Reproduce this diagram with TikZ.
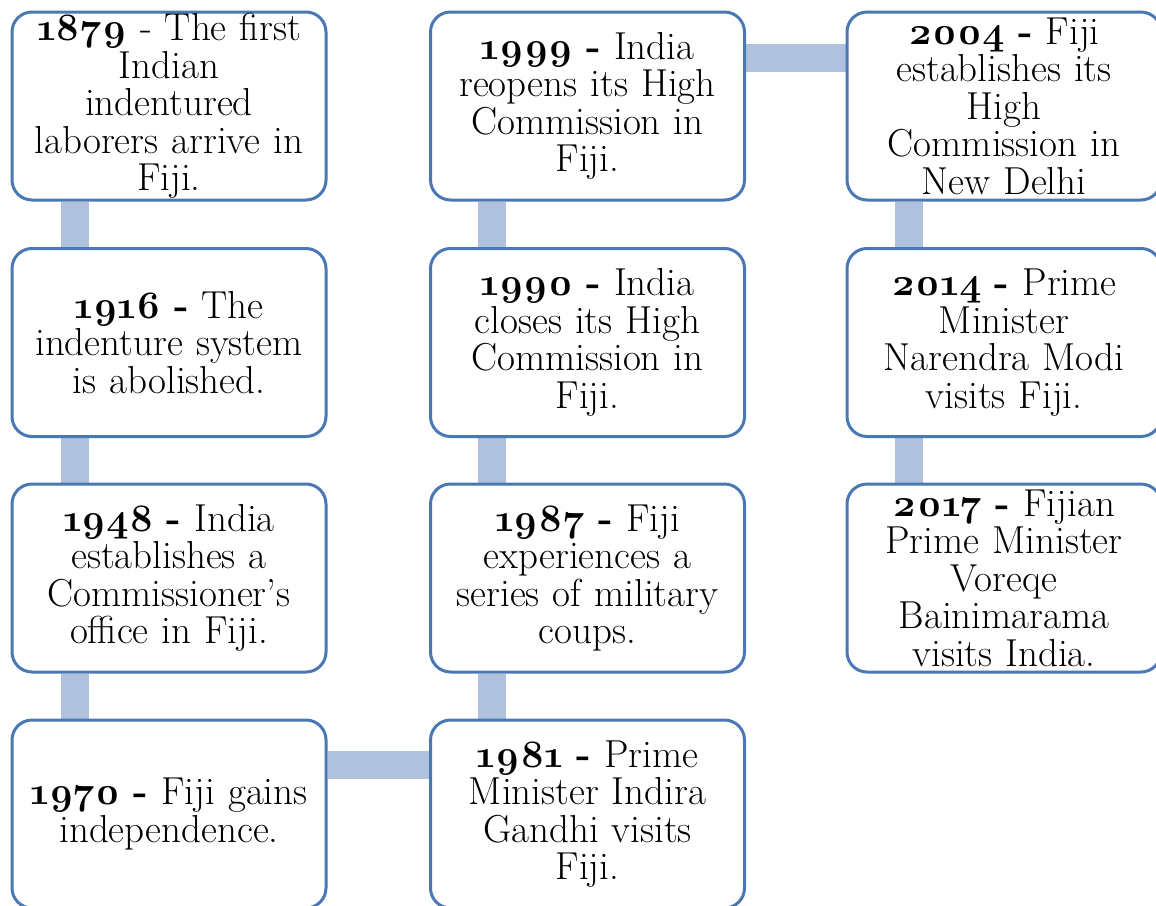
\documentclass[tikz,border=0pt]{standalone}
\usepackage{fontspec}
\setmainfont{Latin Modern Roman}[Numbers=OldStyle]
\usetikzlibrary{backgrounds}
\definecolor{boxblue}{RGB}{74,120,180}
\definecolor{barblue}{RGB}{176,193,221}
\tikzset{
  evbox/.style={draw=boxblue, line width=3pt, rounded corners=20pt, fill=white,
    minimum width=314pt, minimum height=188pt, inner sep=0pt, align=center,
    font=\fontsize{39pt}{37.5pt}\selectfont, text width=310pt},
  bar/.style={draw=barblue, line width=28pt}
}
\begin{document}
\begin{tikzpicture}[x=1pt,y=-1pt]
\useasboundingbox (0,0) rectangle (1156,905);
\clip (0,0) rectangle (1156,905);
\node[evbox] (a) at (169,106) {\textbf{1879} - The first\\Indian\\indentured\\laborers arrive in\\Fiji.};
\node[evbox] (b) at (169,342.5) {\textbf{1916 -} The\\indenture system\\is abolished.};
\node[evbox] (c) at (169,578) {\textbf{1948 -} India\\establishes a\\Commissioner's\\office in Fiji.};
\node[evbox] (d) at (169,814) {\textbf{1970 -} Fiji gains\\independence.};
\node[evbox] (e) at (587.5,814) {\textbf{1981 -} Prime\\Minister Indira\\Gandhi visits\\Fiji.};
\node[evbox] (f) at (587.5,578) {\textbf{1987 -} Fiji\\experiences a\\series of military\\coups.};
\node[evbox] (g) at (587.5,342.5) {\textbf{1990 -} India\\closes its High\\Commission in\\Fiji.};
\node[evbox] (h) at (587.5,106) {\textbf{1999 -} India\\reopens its High\\Commission in\\Fiji.};
\node[evbox] (i) at (1004,106) {\textbf{2004 -} Fiji\\establishes its\\High\\Commission in\\New Delhi};
\node[evbox] (j) at (1004,342.5) {\textbf{2014 -} Prime\\Minister\\Narendra Modi\\visits Fiji.};
\node[evbox] (k) at (1004,578) {\textbf{2017 -} Fijian\\Prime Minister\\Voreqe\\Bainimarama\\visits India.};
\begin{scope}[on background layer]
\draw[bar] ([xshift=64pt]a.south west) -- ([xshift=64pt]b.north west);
\draw[bar] ([xshift=64pt]b.south west) -- ([xshift=64pt]c.north west);
\draw[bar] ([xshift=64pt]c.south west) -- ([xshift=64pt]d.north west);
\draw[bar] ([yshift=-46pt]d.north east) -- ([yshift=-46pt]e.north west);
\draw[bar] ([xshift=63pt]e.north west) -- ([xshift=63pt]f.south west);
\draw[bar] ([xshift=63pt]f.north west) -- ([xshift=63pt]g.south west);
\draw[bar] ([xshift=63pt]g.north west) -- ([xshift=63pt]h.south west);
\draw[bar] ([yshift=-47pt]h.north east) -- ([yshift=-47pt]i.north west);
\draw[bar] ([xshift=63pt]i.south west) -- ([xshift=63pt]j.north west);
\draw[bar] ([xshift=63pt]j.south west) -- ([xshift=63pt]k.north west);
\end{scope}
\end{tikzpicture}
\end{document}
